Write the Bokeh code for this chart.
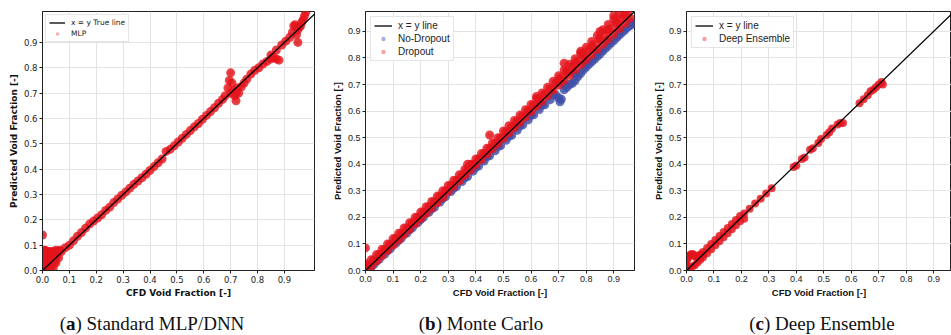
from bokeh.plotting import figure
from bokeh.models import Range1d, FixedTicker, PrintfTickFormatter, Div, Legend, LegendItem
from bokeh.layouts import row, column
from bokeh.embed import file_html
from bokeh.resources import INLINE

# ---------------- data ----------------
ticks = [0.0, 0.1, 0.2, 0.3, 0.4, 0.5, 0.6, 0.7, 0.8, 0.9]

# (a) Standard MLP/DNN
diag_a = [0.0, 1.02]
cfd_a = [0.00, 0.00, 0.00, 0.00, 0.00, 0.005, 0.005, 0.01, 0.01, 0.01, 0.015, 0.015, 0.02, 0.02,
         0.02, 0.025, 0.025, 0.03, 0.03, 0.03, 0.035, 0.035, 0.04, 0.04, 0.04, 0.045, 0.045, 0.05,
         0.05, 0.05, 0.055, 0.06, 0.06, 0.065,
         0.07, 0.085, 0.10, 0.115, 0.13, 0.145, 0.16, 0.175, 0.19, 0.205, 0.22, 0.235, 0.25, 0.265,
         0.28, 0.295, 0.31, 0.325, 0.34, 0.355, 0.37, 0.385, 0.40, 0.415, 0.43, 0.445, 0.46, 0.475,
         0.49, 0.505, 0.52, 0.535, 0.55, 0.565, 0.58, 0.595, 0.61, 0.625, 0.64, 0.655, 0.67,
         0.68, 0.69, 0.695, 0.70, 0.70, 0.705, 0.71, 0.715, 0.72, 0.72, 0.725, 0.73, 0.74, 0.75,
         0.76, 0.775, 0.79, 0.805, 0.82, 0.835, 0.85, 0.85, 0.86, 0.87, 0.87, 0.88, 0.89, 0.905,
         0.92, 0.93, 0.935, 0.94, 0.945, 0.95, 0.95, 0.955, 0.96, 0.965, 0.97, 0.975, 0.98]
pred_a = [0.00, 0.025, 0.05, 0.075, 0.14, 0.04, 0.08, 0.015, 0.055, 0.08, 0.035, 0.075, 0.00, 0.04,
          0.075, 0.02, 0.06, 0.005, 0.045, 0.075, 0.025, 0.07, 0.01, 0.05, 0.075, 0.035, 0.07, 0.03,
          0.055, 0.08, 0.075, 0.05, 0.075, 0.08,
          0.075, 0.09, 0.10, 0.117, 0.135, 0.15, 0.167, 0.183, 0.195, 0.207, 0.22, 0.237, 0.25, 0.268,
          0.282, 0.297, 0.31, 0.325, 0.34, 0.353, 0.366, 0.38, 0.395, 0.41, 0.425, 0.44, 0.47, 0.478,
          0.492, 0.507, 0.522, 0.537, 0.552, 0.567, 0.58, 0.597, 0.612, 0.627, 0.642, 0.66, 0.675,
          0.69, 0.72, 0.75, 0.78, 0.70, 0.74, 0.71, 0.69, 0.67, 0.70, 0.72, 0.70, 0.725, 0.74,
          0.755, 0.775, 0.79, 0.80, 0.815, 0.825, 0.835, 0.85, 0.84, 0.835, 0.87, 0.83, 0.89, 0.905,
          0.92, 0.94, 0.965, 0.97, 0.93, 0.90, 0.95, 0.96, 0.965, 0.98, 0.99, 1.005, 1.02]

# (b) Monte Carlo
diag_b = [0.0, 0.975]
cfd_b_nodrop = [0.0, 0.01, 0.02, 0.03, 0.05, 0.07, 0.09, 0.11, 0.13, 0.15, 0.17, 0.19, 0.21, 0.23,
                0.25, 0.27, 0.29, 0.31, 0.33, 0.35, 0.37, 0.39, 0.41, 0.43, 0.45, 0.47, 0.49, 0.51,
                0.53, 0.55, 0.57, 0.59, 0.61, 0.63, 0.65, 0.67, 0.69, 0.70, 0.705, 0.71, 0.72, 0.73,
                0.74, 0.75, 0.76, 0.77, 0.78, 0.79, 0.80, 0.81, 0.82, 0.83, 0.84, 0.85, 0.86, 0.87,
                0.88, 0.89, 0.90, 0.91, 0.92, 0.93, 0.94, 0.95, 0.96, 0.97,
                0.04, 0.08, 0.12, 0.16, 0.20, 0.24, 0.28, 0.32, 0.36, 0.40, 0.44, 0.48, 0.52, 0.56,
                0.60, 0.64, 0.68, 0.72, 0.76, 0.80, 0.84, 0.88, 0.92, 0.96]
pred_b_nodrop = [0.0, 0.005, 0.012, 0.022, 0.042, 0.062, 0.082, 0.102, 0.121, 0.141, 0.161, 0.180,
                 0.200, 0.219, 0.238, 0.258, 0.278, 0.297, 0.316, 0.335, 0.354, 0.374, 0.393, 0.412,
                 0.432, 0.451, 0.470, 0.490, 0.509, 0.528, 0.548, 0.567, 0.586, 0.606, 0.624, 0.643,
                 0.660, 0.650, 0.635, 0.645, 0.680, 0.690, 0.700, 0.705, 0.715, 0.730, 0.742, 0.755,
                 0.766, 0.776, 0.786, 0.795, 0.805, 0.815, 0.826, 0.836, 0.846, 0.856, 0.866, 0.876,
                 0.886, 0.896, 0.905, 0.915, 0.922, 0.930,
                 0.036, 0.075, 0.114, 0.153, 0.192, 0.232, 0.271, 0.31, 0.349, 0.388, 0.428, 0.467,
                 0.506, 0.545, 0.584, 0.623, 0.662, 0.70, 0.74, 0.78, 0.82, 0.86, 0.90, 0.935]
cfd_b_drop = [0.00, 0.02, 0.04, 0.06, 0.08, 0.10, 0.12, 0.14, 0.16, 0.18, 0.20, 0.22, 0.24, 0.26,
              0.28, 0.30, 0.32, 0.34, 0.36, 0.38, 0.40, 0.42, 0.44, 0.46, 0.48, 0.50, 0.52, 0.54,
              0.56, 0.58, 0.60, 0.62, 0.64, 0.66, 0.68, 0.70, 0.72, 0.74, 0.76, 0.78, 0.80, 0.82,
              0.84, 0.86, 0.88, 0.90, 0.92, 0.94, 0.96,
              0.00, 0.02, 0.04, 0.06, 0.08, 0.10, 0.12, 0.14, 0.16, 0.18, 0.20, 0.22, 0.24, 0.26,
              0.28, 0.30, 0.32, 0.34, 0.36, 0.38, 0.40, 0.42, 0.44, 0.46, 0.48, 0.50, 0.52, 0.54,
              0.56, 0.58, 0.60, 0.62, 0.64, 0.66, 0.68, 0.70, 0.72, 0.74, 0.76, 0.78, 0.80, 0.82,
              0.84, 0.86, 0.88, 0.90, 0.92, 0.94, 0.96,
              0.01, 0.03, 0.05, 0.07, 0.09, 0.11, 0.13, 0.15, 0.17, 0.19, 0.21, 0.23, 0.25, 0.27,
              0.29, 0.31, 0.33, 0.35, 0.37, 0.39, 0.41, 0.43, 0.45, 0.47, 0.49, 0.51, 0.53, 0.55,
              0.57, 0.59, 0.61, 0.63, 0.65, 0.67, 0.69, 0.71, 0.73, 0.75, 0.77, 0.79, 0.81, 0.83,
              0.85, 0.87, 0.89, 0.91, 0.93, 0.95,
              0.70, 0.73, 0.76, 0.79, 0.82, 0.85, 0.88, 0.91, 0.94,
              0.00, 0.45, 0.78, 0.72, 0.62, 0.37, 0.85, 0.90]
pred_b_drop = [0.00, 0.015, 0.035, 0.055, 0.075, 0.095, 0.115, 0.135, 0.155, 0.175, 0.195, 0.215,
               0.235, 0.255, 0.275, 0.297, 0.318, 0.338, 0.358, 0.378, 0.398, 0.418, 0.438, 0.458,
               0.478, 0.498, 0.518, 0.538, 0.558, 0.578, 0.598, 0.618, 0.638, 0.658, 0.678, 0.698,
               0.715, 0.735, 0.755, 0.775, 0.793, 0.812, 0.832, 0.851, 0.870, 0.890, 0.910, 0.930,
               0.950,
               0.025, 0.04, 0.06, 0.08, 0.10, 0.12, 0.14, 0.16, 0.18, 0.20, 0.22, 0.24, 0.26, 0.28,
               0.30, 0.32, 0.34, 0.36, 0.38, 0.40, 0.42, 0.44, 0.46, 0.48, 0.50, 0.525, 0.545, 0.565,
               0.585, 0.605, 0.625, 0.647, 0.668, 0.69, 0.712, 0.733, 0.755, 0.776, 0.797, 0.818,
               0.84, 0.862, 0.884, 0.906, 0.926, 0.946, 0.965, 0.98, 0.99,
               0.02, 0.04, 0.06, 0.08, 0.10, 0.12, 0.14, 0.16, 0.18, 0.20, 0.22, 0.24, 0.26, 0.28,
               0.30, 0.32, 0.34, 0.36, 0.38, 0.40, 0.42, 0.44, 0.46, 0.48, 0.50, 0.522, 0.542, 0.562,
               0.582, 0.602, 0.623, 0.643, 0.664, 0.684, 0.705, 0.726, 0.746, 0.767, 0.788, 0.808,
               0.829, 0.850, 0.870, 0.891, 0.910, 0.930, 0.950, 0.968,
               0.718, 0.75, 0.78, 0.812, 0.843, 0.873, 0.905, 0.935, 0.962,
               0.085, 0.51, 0.825, 0.78, 0.655, 0.40, 0.90, 0.96]

# (c) Deep Ensemble
diag_c = [0.0, 0.975]
cfd_c = [0.00, 0.00, 0.00, 0.005, 0.01, 0.015, 0.02, 0.025, 0.03, 0.035, 0.04, 0.045, 0.01, 0.02,
         0.03, 0.04, 0.05, 0.05, 0.06,
         0.06, 0.075, 0.09, 0.105, 0.12, 0.135, 0.15, 0.165, 0.18, 0.195, 0.21,
         0.06, 0.075, 0.09, 0.105, 0.12, 0.135, 0.15, 0.165, 0.18, 0.195, 0.21,
         0.23, 0.25, 0.27, 0.29, 0.31,
         0.39, 0.40, 0.42, 0.43, 0.45, 0.46, 0.48, 0.49, 0.51, 0.52, 0.53, 0.55, 0.56, 0.57,
         0.63, 0.645, 0.66, 0.67, 0.68, 0.69, 0.70, 0.71, 0.715]
pred_c = [0.00, 0.02, 0.035, 0.045, 0.055, 0.06, 0.062, 0.06, 0.055, 0.05, 0.052, 0.055, 0.01, 0.015,
          0.02, 0.03, 0.04, 0.06, 0.06,
          0.05, 0.065, 0.08, 0.095, 0.11, 0.125, 0.14, 0.155, 0.17, 0.185, 0.195,
          0.07, 0.085, 0.10, 0.115, 0.13, 0.145, 0.16, 0.175, 0.19, 0.205, 0.215,
          0.232, 0.252, 0.27, 0.29, 0.31,
          0.39, 0.395, 0.42, 0.425, 0.455, 0.46, 0.48, 0.495, 0.51, 0.52, 0.535, 0.55, 0.555, 0.555,
          0.63, 0.645, 0.66, 0.675, 0.68, 0.69, 0.70, 0.71, 0.70]

RED = "#e3141c"
BLUE = "#3f4fa8"


def make_fig(width, height, xmax, ymax, borders, font, tick_size, label_size):
    left, right, top, bottom = borders
    p = figure(width=width, height=height, x_range=Range1d(0, xmax), y_range=Range1d(0, ymax),
               output_backend="svg", toolbar_location=None,
               min_border_left=left, min_border_right=right,
               min_border_top=top, min_border_bottom=bottom)
    p.outline_line_color = "#222222"
    p.outline_line_width = 1
    p.outline_line_alpha = 1
    for ax in (p.xaxis, p.yaxis):
        ax.ticker = FixedTicker(ticks=ticks)
        ax.formatter = PrintfTickFormatter(format="%.1f")
        ax.major_label_text_font = font
        ax.major_label_text_font_size = tick_size
        ax.major_label_text_color = "#222222"
        ax.axis_label_text_font = font
        ax.axis_label_text_font_size = label_size
        ax.axis_label_text_font_style = "bold"
        ax.axis_label_text_color = "#111111"
        ax.axis_line_color = "#222222"
        ax.major_tick_line_color = "#222222"
        ax.major_tick_out = 3
        ax.major_tick_in = 0
        ax.minor_tick_line_color = None
        ax.major_label_standoff = 2
        ax.axis_label_standoff = 2
    p.xaxis.axis_label = "CFD Void Fraction [-]"
    p.yaxis.axis_label = "Predicted Void Fraction [-]"
    p.grid.grid_line_color = "#e3e3e3"
    p.grid.grid_line_width = 1
    p.background_fill_color = "white"
    return p


def add_legend(p, items, font, size, glyph_w, row_h, pad, margin):
    lg = Legend(items=[LegendItem(label=lab, renderers=[r]) for lab, r in items])
    p.add_layout(lg, "center")
    lg.location = "top_left"
    lg.label_text_font = font
    lg.label_text_font_size = size
    lg.label_text_color = "#222222"
    lg.glyph_width = glyph_w
    lg.glyph_height = row_h
    lg.label_height = row_h
    lg.label_standoff = 6
    lg.spacing = 2
    lg.padding = pad
    lg.margin = margin
    lg.border_line_color = "#cccccc"
    lg.background_fill_alpha = 0.9


# (a)  pale legend proxies sit underneath the solid clouds
pa = make_fig(320, 300, 1.012, 1.022, (42, 6, 6, 29), "DejaVu Sans", "8.5px", "9px")
pa_leg = pa.scatter(cfd_a, pred_a, size=5, fill_color=RED, fill_alpha=0.35, line_color=None)
pa.scatter(cfd_a, pred_a, size=9, fill_color=RED, fill_alpha=0.8, line_color=None)
pa_line = pa.line(diag_a, diag_a, line_color="black", line_width=1.3)
add_legend(pa, [("x = y True line", pa_line), ("MLP", pa_leg)],
           "DejaVu Sans", "7.5px", 16, 9, 3, 3)

# (b)
pb = make_fig(320, 300, 0.975, 0.975, (45, 6, 11, 30), "Liberation Sans", "9px", "9.5px")
pb_leg1 = pb.scatter(cfd_b_nodrop, pred_b_nodrop, size=5, fill_color=BLUE, fill_alpha=0.45,
                     line_color=None)
pb.scatter(cfd_b_nodrop, pred_b_nodrop, size=9, fill_color=BLUE, fill_alpha=0.8, line_color=None)
pb_leg2 = pb.scatter(cfd_b_drop, pred_b_drop, size=5, fill_color=RED, fill_alpha=0.4,
                     line_color=None)
pb.scatter(cfd_b_drop, pred_b_drop, size=9, fill_color=RED, fill_alpha=0.8, line_color=None)
pb_line = pb.line(diag_b, diag_b, line_color="black", line_width=1.3)
add_legend(pb, [("x = y line", pb_line), ("No-Dropout", pb_leg1), ("Dropout", pb_leg2)],
           "Liberation Sans", "10px", 18, 11, 3, 5)

# (c)
pc = make_fig(311, 300, 0.965, 0.975, (46, 0, 11, 29), "Liberation Sans", "9px", "9.5px")
pc_leg = pc.scatter(cfd_c, pred_c, size=5, fill_color=RED, fill_alpha=0.4, line_color=None)
pc.scatter(cfd_c, pred_c, size=8, fill_color=RED, fill_alpha=0.8, line_color=None)
pc_line = pc.line(diag_c, diag_c, line_color="black", line_width=1.3)
add_legend(pc, [("x = y line", pc_line), ("Deep Ensemble", pc_leg)],
           "Liberation Sans", "10px", 18, 11, 3, 5)

span = ("position:absolute;top:10px;transform:translateX(-50%);white-space:nowrap;"
        "font-family:'Liberation Serif';font-size:19px;color:#111111;")
caption_html = (
    '<div style="position:relative;width:951px;height:35px;">'
    f'<span style="{span}left:152px;">(<b>a</b>) Standard MLP/DNN</span>'
    f'<span style="{span}left:481px;">(<b>b</b>) Monte Carlo</span>'
    f'<span style="{span}left:822px;">(<b>c</b>) Deep Ensemble</span>'
    '</div>'
)
captions = Div(text=caption_html, width=951, height=35, margin=0)

layout = column(row(pa, pb, pc), captions)

open("out.html", "w").write(file_html(layout, INLINE))
